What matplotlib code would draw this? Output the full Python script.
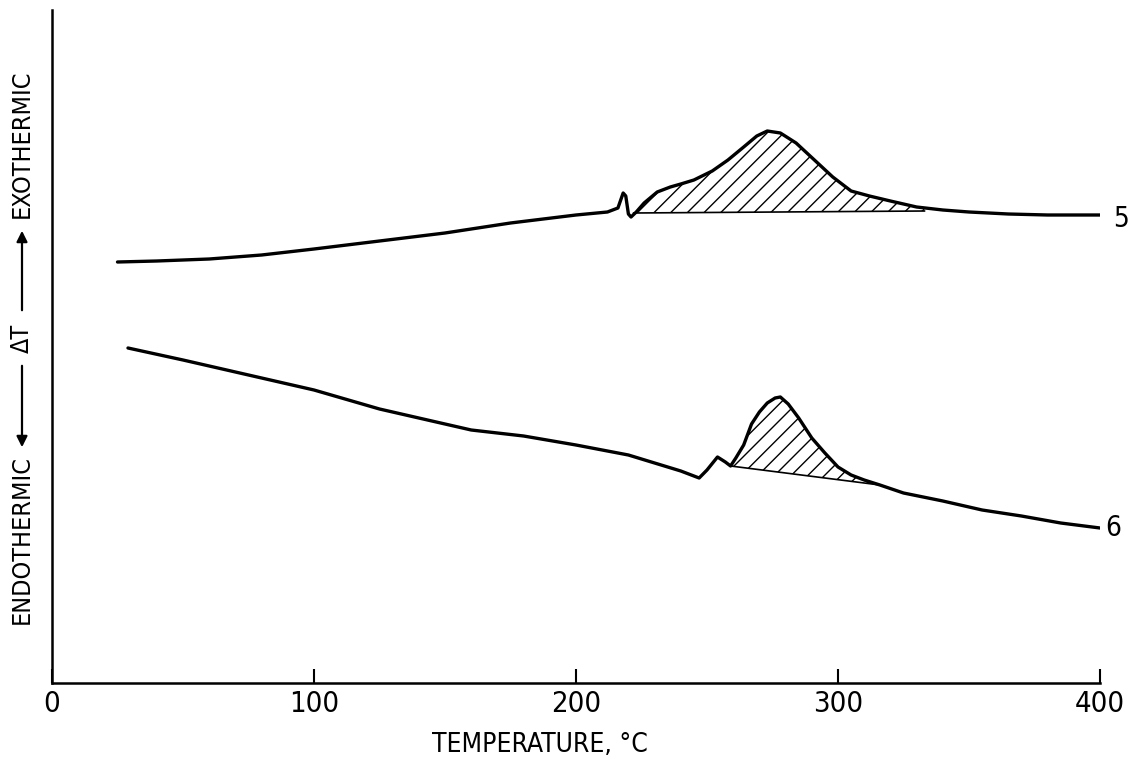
import numpy as np
import matplotlib
matplotlib.use("Agg")
import matplotlib.pyplot as plt

plt.rcParams['font.family'] = ['DejaVu Sans']
plt.rcParams['font.stretch'] = 'condensed'
plt.rcParams['hatch.linewidth'] = 1.0

# curve 5 (upper)
temp5 = [25, 40, 60, 80, 100, 125, 150, 175, 200, 212, 216, 218, 219, 220, 221, 223, 226, 231,
         236, 240, 245, 252, 258, 264, 269, 273, 278, 284, 291, 298, 305, 312, 320, 330, 340,
         350, 365, 380, 400]
dt5 = [421, 422, 424, 428, 434, 442, 450, 460, 468, 471, 475, 490, 487, 469, 466, 471, 480, 491,
       496, 499, 503, 512, 523, 536, 547, 552, 550, 540, 523, 506, 492, 487, 482, 476, 473,
       471, 469, 468, 468]
base5_t = [222, 333]
base5_y = [470, 472]

# curve 6 (lower)
temp6 = [29, 50, 75, 100, 125, 150, 160, 180, 200, 220, 240, 247, 250, 254, 257, 259, 261, 264,
         267, 270, 273, 276, 278, 281, 285, 290, 295, 300, 305, 310, 316, 325, 340, 355, 370,
         385, 400]
dt6 = [335, 323, 308, 293, 274, 259, 253, 247, 238, 228, 212, 205, 213, 226, 221, 217, 225, 238,
       259, 271, 280, 285, 286, 279, 265, 245, 230, 216, 208, 203, 198, 190, 182, 173, 167,
       160, 155]
base6_t = [259, 316]
base6_y = [217, 198]

fig = plt.figure(figsize=(11.31, 7.62), dpi=100)
ax = fig.add_axes([52 / 1131, 79 / 762, 1048 / 1131, 673 / 762])

ax.plot(temp5, dt5, color='black', lw=2.4, solid_joinstyle='round', solid_capstyle='round')
ax.plot(temp6, dt6, color='black', lw=2.4, solid_joinstyle='round', solid_capstyle='round')

# hatched exotherm areas
for t, y, bt, by in [(temp5, dt5, base5_t, base5_y), (temp6, dt6, base6_t, base6_y)]:
    t = np.array(t)
    y = np.array(y)
    m = (t >= bt[0]) & (t <= bt[1])
    tt = np.concatenate([[bt[0]], t[m], [bt[1]]])
    yy = np.interp(tt, t, y)
    bb = np.interp(tt, bt, by)
    ax.fill_between(tt, yy, bb, where=yy >= bb, interpolate=True,
                    facecolor='none', edgecolor='black', hatch='//', lw=0)
    ax.plot(bt, by, color='black', lw=1.2)

ax.text(405, 464, "5", fontsize=20, va='center', ha='left', clip_on=False)
ax.text(402, 155, "6", fontsize=20, va='center', ha='left', clip_on=False)

ax.set_xlim(0, 400)
ax.set_ylim(0, 673)
ax.spines['top'].set_visible(False)
ax.spines['right'].set_visible(False)
ax.spines['left'].set_linewidth(1.8)
ax.spines['bottom'].set_linewidth(1.8)
ax.set_yticks([])
ax.set_xticks([0, 100, 200, 300, 400])
ax.tick_params(axis='x', direction='in', length=10, width=1.5, labelsize=21, pad=5)

fig.text(540 / 1131, 17 / 762, "TEMPERATURE, °C", fontsize=19, ha='center', va='center')

# y axis label with arrows
xl = 22 / 1131
fig.text(xl, (762 - 144) / 762, "EXOTHERMIC", rotation=90, fontsize=18, ha='center', va='center')
fig.text(xl, (762 - 338) / 762, "ΔT", rotation=90, fontsize=18, ha='center', va='center')
fig.text(xl, (762 - 540) / 762, "ENDOTHERMIC", rotation=90, fontsize=18, ha='center', va='center')
ax.annotate('', xy=(xl, (762 - 228) / 762), xytext=(xl, (762 - 313) / 762),
            xycoords='figure fraction', textcoords='figure fraction',
            arrowprops=dict(arrowstyle='-|>', lw=1.6, color='black', mutation_scale=16))
ax.annotate('', xy=(xl, (762 - 450) / 762), xytext=(xl, (762 - 363) / 762),
            xycoords='figure fraction', textcoords='figure fraction',
            arrowprops=dict(arrowstyle='-|>', lw=1.6, color='black', mutation_scale=16))

fig.savefig("out.png", dpi=100)
